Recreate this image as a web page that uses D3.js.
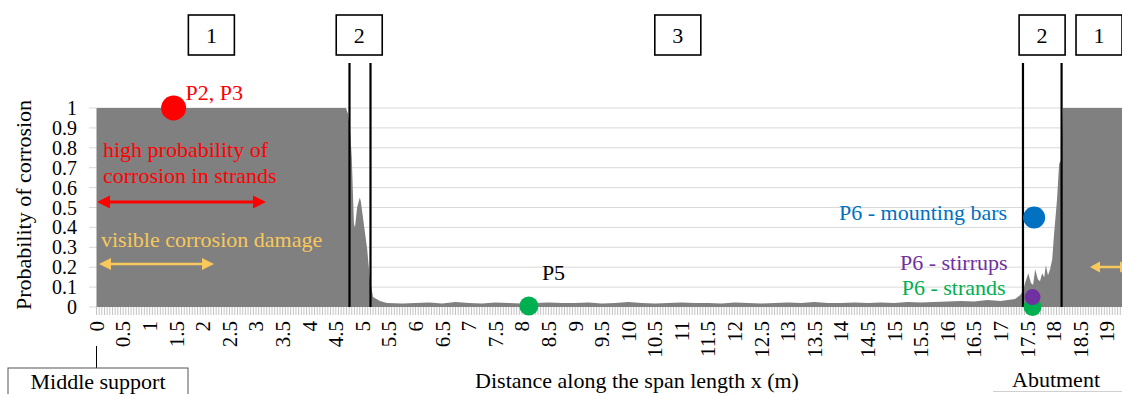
<!DOCTYPE html>
<html>
<head>
<meta charset="utf-8">
<script src="https://cdn.jsdelivr.net/npm/d3@7"></script>
<style>
  body { margin: 0; background: #fff; }
  svg { display: block; font-family: 'Liberation Serif', 'Times New Roman', serif; }
</style>
</head>
<body>
<svg id="chart" width="1122" height="394"></svg>
<script>
// distance along the span (m) and probability of corrosion
const distance = [0, 4.69, 4.73, 4.77, 4.8, 4.84, 4.86, 4.9, 4.95, 4.97, 5.01, 5.09, 5.14, 5.2, 5.33, 5.46,
  5.75, 6, 6.25, 6.5, 6.75, 7, 7.25, 7.5, 7.75, 8, 8.25, 8.5, 8.75, 9, 9.25, 9.5, 9.75, 10,
  10.25, 10.5, 10.75, 11, 11.25, 11.5, 11.75, 12, 12.25, 12.5, 12.75, 13, 13.25, 13.5, 13.75, 14,
  14.25, 14.5, 14.75, 15, 15.25, 15.5, 15.75, 16, 16.25, 16.5, 16.75, 17, 17.27, 17.37, 17.42,
  17.46, 17.52, 17.57, 17.61, 17.65, 17.7, 17.74, 17.78, 17.82, 17.85, 17.89, 17.93, 17.97, 18,
  18.06, 18.1, 18.14, 18.17, 19.3];
const probability = [1, 1, 0.97, 0.88, 0.75, 0.42, 0.4, 0.5, 0.55, 0.53, 0.45, 0.29, 0.14, 0.05, 0.03, 0.02,
  0.018, 0.02, 0.022, 0.018, 0.025, 0.02, 0.018, 0.022, 0.02, 0.018, 0.02, 0.022, 0.02, 0.02, 0.022, 0.018, 0.02, 0.025,
  0.02, 0.018, 0.02, 0.022, 0.02, 0.02, 0.018, 0.022, 0.02, 0.018, 0.02, 0.022, 0.02, 0.025, 0.02, 0.02,
  0.022, 0.02, 0.022, 0.02, 0.025, 0.022, 0.025, 0.028, 0.03, 0.028, 0.035, 0.03, 0.04, 0.06, 0.08,
  0.12, 0.17, 0.12, 0.11, 0.19, 0.14, 0.13, 0.17, 0.15, 0.21, 0.16, 0.19, 0.24, 0.35,
  0.54, 0.72, 0.74, 1, 1];

const xTickLabels = ['0', '0.5', '1', '1.5', '2', '2.5', '3', '3.5', '4', '4.5', '5', '5.5', '6', '6.5',
  '7', '7.5', '8', '8.5', '9', '9.5', '10', '10.5', '11', '11.5', '12', '12.5', '13', '13.5', '14',
  '14.5', '15', '15.5', '16', '16.5', '17', '17.5', '18', '18.5', '19'];
const yTickLabels = ['0', '0.1', '0.2', '0.3', '0.4', '0.5', '0.6', '0.7', '0.8', '0.9', '1'];

// inspected points
const sampleNames = ['P2, P3', 'P5', 'P6 - mounting bars', 'P6 - stirrups', 'P6 - strands'];
const sampleX = [1.45, 8.13, 17.63, 17.6, 17.6];
const sampleProb = [1, 0.005, 0.45, 0.05, 0];

// zones
const zoneNames = ['1', '2', '3', '2', '1'];
const zoneCenters = [2.16, 4.94, 10.93, 17.78, 18.85];
const zoneBounds = [4.757, 5.152, 17.42, 18.146];

const sampleColors = ['#ff0000', '#00b050', '#0070c0', '#7030a0', '#00b050'];

const svg = d3.select('#chart');
const W = 1122;

const x = d3.scaleLinear().domain([0, 19]).range([96.5, 1107]);
const y = d3.scaleLinear().domain([0, 1]).range([307, 108]);

// gridlines
svg.append('g')
  .selectAll('line')
  .data(yTickLabels.slice(1))
  .join('line')
  .attr('x1', x(0)).attr('x2', W)
  .attr('y1', (d) => y(+d)).attr('y2', (d) => y(+d))
  .attr('stroke', '#d9d9d9').attr('stroke-width', 1);

// y tick marks
svg.append('g')
  .selectAll('line')
  .data(yTickLabels)
  .join('line')
  .attr('x1', 89).attr('x2', x(0))
  .attr('y1', (d) => y(+d)).attr('y2', (d) => y(+d))
  .attr('stroke', '#d9d9d9');

// dense category ticks under the plot
svg.append('g')
  .selectAll('line')
  .data(d3.range(0, 19.3, 0.05))
  .join('line')
  .attr('x1', (d) => x(d)).attr('x2', (d) => x(d))
  .attr('y1', 307).attr('y2', 315)
  .attr('stroke', '#c4c4c4').attr('stroke-width', 1);

// area
const pts = distance.map((d, i) => [d, probability[i]]);
svg.append('path')
  .datum(pts)
  .attr('fill', '#808080')
  .attr('d', d3.area().x((d) => x(d[0])).y0(y(0)).y1((d) => y(d[1])));

// y labels
svg.append('g')
  .selectAll('text')
  .data(yTickLabels)
  .join('text')
  .attr('x', 77)
  .attr('y', (d) => y(+d))
  .attr('dy', '0.35em')
  .attr('text-anchor', 'end')
  .attr('font-size', 20)
  .text((d) => d);

svg.append('text')
  .attr('transform', 'translate(31,205) rotate(-90)')
  .attr('text-anchor', 'middle')
  .attr('font-size', 22)
  .text('Probability of corrosion');

// x labels
svg.append('g')
  .selectAll('text')
  .data(xTickLabels)
  .join('text')
  .attr('transform', (d) => `translate(${x(+d)},321) rotate(-90)`)
  .attr('dy', '0.35em')
  .attr('text-anchor', 'end')
  .attr('font-size', 21)
  .text((d) => d);

svg.append('text')
  .attr('x', 637).attr('y', 388)
  .attr('text-anchor', 'middle')
  .attr('font-size', 22)
  .text('Distance along the span length x (m)');

// middle support / abutment
svg.append('line')
  .attr('x1', x(0)).attr('x2', x(0)).attr('y1', 346).attr('y2', 368)
  .attr('stroke', '#000').attr('stroke-width', 1);
svg.append('rect')
  .attr('x', 8).attr('y', 368).attr('width', 180).attr('height', 40)
  .attr('fill', 'none').attr('stroke', '#555').attr('stroke-width', 1);
svg.append('text')
  .attr('x', 98).attr('y', 389)
  .attr('text-anchor', 'middle').attr('font-size', 22)
  .text('Middle support');
svg.append('text')
  .attr('x', 1056).attr('y', 387)
  .attr('text-anchor', 'middle').attr('font-size', 22)
  .text('Abutment');
svg.append('line')
  .attr('x1', 993).attr('x2', W).attr('y1', 391.5).attr('y2', 391.5)
  .attr('stroke', '#d0d0d0');

// zone boundaries
svg.append('g')
  .selectAll('line')
  .data(zoneBounds)
  .join('line')
  .attr('x1', (d) => x(d)).attr('x2', (d) => x(d))
  .attr('y1', 63).attr('y2', y(0))
  .attr('stroke', '#000').attr('stroke-width', 2.2);

// zone boxes
const zone = svg.append('g')
  .selectAll('g')
  .data(zoneNames)
  .join('g')
  .attr('transform', (d, i) => `translate(${x(zoneCenters[i])},35)`);
zone.append('rect')
  .attr('x', -23).attr('y', -20).attr('width', 46).attr('height', 40)
  .attr('fill', '#fff').attr('stroke', '#000').attr('stroke-width', 1.6);
zone.append('text')
  .attr('text-anchor', 'middle').attr('dy', '0.35em')
  .attr('font-size', 22)
  .text((d) => d);

// arrows
function doubleArrow(x1, x2, yy, color, w, hl, hw) {
  const g = svg.append('g').attr('fill', color);
  g.append('line')
    .attr('x1', x1 + hl - 1).attr('x2', x2 - hl + 1).attr('y1', yy).attr('y2', yy)
    .attr('stroke', color).attr('stroke-width', w);
  g.append('path').attr('d', `M${x1},${yy}L${x1 + hl},${yy - hw}L${x1 + hl},${yy + hw}Z`);
  g.append('path').attr('d', `M${x2},${yy}L${x2 - hl},${yy - hw}L${x2 - hl},${yy + hw}Z`);
}
doubleArrow(97, 266, 202, '#ff0000', 3, 13, 6.5);
doubleArrow(99, 214, 264, '#f9c85a', 2.5, 12, 6);
doubleArrow(1090, 1130, 267, '#f9c85a', 2.5, 10, 5.5);

svg.append('text')
  .attr('x', 103).attr('y', 157).attr('fill', '#ff0000').attr('font-size', 22)
  .text('high probability of');
svg.append('text')
  .attr('x', 103).attr('y', 183).attr('fill', '#ff0000').attr('font-size', 22)
  .text('corrosion in strands');
svg.append('text')
  .attr('x', 101).attr('y', 247).attr('fill', '#f9c85a').attr('font-size', 22)
  .text('visible corrosion damage');

// sample points
const radii = [12.5, 9.5, 11, 8, 9];
const order = [0, 1, 2, 4, 3];
svg.append('g')
  .selectAll('circle')
  .data(order)
  .join('circle')
  .attr('cx', (i) => x(sampleX[i]))
  .attr('cy', (i) => y(sampleProb[i]))
  .attr('r', (i) => radii[i])
  .attr('fill', (i) => sampleColors[i]);

const labelPos = [
  { dx: 12, dy: -8, anchor: 'start' },
  { dx: 13, dy: -26, anchor: 'start' },
  { dx: -27, dy: 3, anchor: 'end' },
  { dx: -25, dy: -27, anchor: 'end' },
  { dx: -27, dy: -12, anchor: 'end' },
];
const labelColors = ['#ff0000', '#000', '#0070c0', '#7030a0', '#00b050'];
svg.append('g')
  .selectAll('text')
  .data(sampleNames)
  .join('text')
  .attr('x', (d, i) => x(sampleX[i]) + labelPos[i].dx)
  .attr('y', (d, i) => y(sampleProb[i]) + labelPos[i].dy)
  .attr('text-anchor', (d, i) => labelPos[i].anchor)
  .attr('fill', (d, i) => labelColors[i])
  .attr('font-size', 22)
  .text((d) => d);
</script>
</body>
</html>
